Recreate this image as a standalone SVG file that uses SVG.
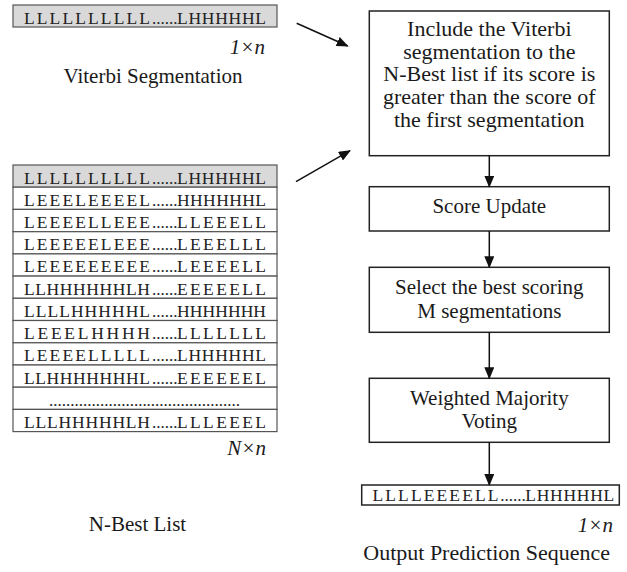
<svg xmlns="http://www.w3.org/2000/svg" width="627" height="572" viewBox="0 0 627 572">
<style>
.bg{fill:#ffffff}
.box{fill:#ffffff;stroke:#222;stroke-width:1.5}
.cell{fill:#ffffff;stroke:#555;stroke-width:1.2}
.hi{fill:#d9d9d9}
.lbl{font-family:"Liberation Serif","Times New Roman",serif;font-size:21px;fill:#1a1a1a}
.big{font-size:22px}
.mid{text-anchor:middle}
.dim{font-family:"Liberation Serif","Times New Roman",serif;font-size:21px;font-style:italic;fill:#1a1a1a;text-anchor:end}
.seq{font-family:"Liberation Serif","Times New Roman",serif;font-size:17.5px;fill:#222}
.dots{font-family:"Liberation Serif","Times New Roman",serif;font-size:17px}
.conn{stroke:#111;stroke-width:1.5;fill:none;marker-end:url(#ah)}
</style>
<defs>
<marker id="ah" viewBox="0 0 12 10" refX="11" refY="5" markerWidth="12" markerHeight="10" markerUnits="userSpaceOnUse" orient="auto">
<path d="M0,0 L12,5 L0,10 z" fill="#111"/>
</marker>
</defs>
<rect class="bg" x="0" y="0" width="627" height="572"/>

<g id="viterbi">
<rect class="cell hi" x="13" y="5" width="264" height="22"/>
<text class="seq" y="23.5"><tspan x="24" textLength="126" lengthAdjust="spacing">LLLLLLLLLL</tspan><tspan class="dots" x="152">......</tspan><tspan x="177" textLength="89" lengthAdjust="spacing">LHHHHHL</tspan></text>
<text class="dim" x="265" y="54">1×n</text>
<text class="lbl mid" x="153" y="83">Viterbi Segmentation</text>
</g>

<g id="nbest">
<rect class="cell hi" x="13" y="165" width="264" height="22.2"/>
<rect class="cell" x="13" y="187.2" width="264" height="22.2"/>
<rect class="cell" x="13" y="209.4" width="264" height="22.2"/>
<rect class="cell" x="13" y="231.7" width="264" height="22.2"/>
<rect class="cell" x="13" y="253.9" width="264" height="22.2"/>
<rect class="cell" x="13" y="276.1" width="264" height="22.2"/>
<rect class="cell" x="13" y="298.3" width="264" height="22.2"/>
<rect class="cell" x="13" y="320.5" width="264" height="22.2"/>
<rect class="cell" x="13" y="342.8" width="264" height="22.2"/>
<rect class="cell" x="13" y="365" width="264" height="22.2"/>
<rect class="cell" x="13" y="387.2" width="264" height="22.2"/>
<rect class="cell" x="13" y="409.4" width="264" height="22.2"/>
<text class="seq" y="183.5"><tspan x="24" textLength="126" lengthAdjust="spacing">LLLLLLLLLL</tspan><tspan class="dots" x="152">......</tspan><tspan x="177" textLength="89" lengthAdjust="spacing">LHHHHHL</tspan></text>
<text class="seq" y="205.7"><tspan x="24" textLength="126" lengthAdjust="spacing">LEEELEEEEL</tspan><tspan class="dots" x="152">......</tspan><tspan x="177" textLength="89" lengthAdjust="spacing">HHHHHHL</tspan></text>
<text class="seq" y="227.9"><tspan x="24" textLength="126" lengthAdjust="spacing">LEEEELLEEE</tspan><tspan class="dots" x="152">......</tspan><tspan x="177" textLength="89" lengthAdjust="spacing">LLEEELL</tspan></text>
<text class="seq" y="250.2"><tspan x="24" textLength="126" lengthAdjust="spacing">LEEEEELEEE</tspan><tspan class="dots" x="152">......</tspan><tspan x="177" textLength="89" lengthAdjust="spacing">LEEELLL</tspan></text>
<text class="seq" y="272.4"><tspan x="24" textLength="126" lengthAdjust="spacing">LEEEEEEEEE</tspan><tspan class="dots" x="152">......</tspan><tspan x="177" textLength="89" lengthAdjust="spacing">LEEEELL</tspan></text>
<text class="seq" y="294.6"><tspan x="24" textLength="126" lengthAdjust="spacing">LLHHHHHHLH</tspan><tspan class="dots" x="152">......</tspan><tspan x="177" textLength="89" lengthAdjust="spacing">EEEEELL</tspan></text>
<text class="seq" y="316.8"><tspan x="24" textLength="126" lengthAdjust="spacing">LLLLHHHHHL</tspan><tspan class="dots" x="152">......</tspan><tspan x="177" textLength="89" lengthAdjust="spacing">HHHHHHH</tspan></text>
<text class="seq" y="339"><tspan x="24" textLength="126" lengthAdjust="spacing">LEEELHHHH</tspan><tspan class="dots" x="152">......</tspan><tspan x="177" textLength="89" lengthAdjust="spacing">LLLLLLL</tspan></text>
<text class="seq" y="361.3"><tspan x="24" textLength="126" lengthAdjust="spacing">LEEEELLLLL</tspan><tspan class="dots" x="152">......</tspan><tspan x="177" textLength="89" lengthAdjust="spacing">LHHHHHL</tspan></text>
<text class="seq" y="383.5"><tspan x="24" textLength="126" lengthAdjust="spacing">LLHHHHHHHL</tspan><tspan class="dots" x="152">......</tspan><tspan x="177" textLength="89" lengthAdjust="spacing">EEEEEEL</tspan></text>
<text class="seq dots" x="49" y="405.5" textLength="191" lengthAdjust="spacing">.............................................</text>
<text class="seq" y="427.9"><tspan x="24" textLength="126" lengthAdjust="spacing">LLLHHHHHLH</tspan><tspan class="dots" x="152">......</tspan><tspan x="177" textLength="89" lengthAdjust="spacing">LLLEEEL</tspan></text>
<text class="dim" x="266" y="455">N×n</text>
<text class="lbl mid" x="137.5" y="531">N-Best List</text>
</g>

<g id="include">
<rect class="box" x="369.3" y="11" width="240" height="144.7"/>
<text class="lbl big mid" x="489.3" y="36">Include the Viterbi</text>
<text class="lbl big mid" x="489.3" y="58.7">segmentation to the</text>
<text class="lbl big mid" x="489.3" y="81.4">N-Best list if its score is</text>
<text class="lbl big mid" x="489.3" y="104.1">greater than the score of</text>
<text class="lbl big mid" x="489.3" y="126.8">the first segmentation</text>
</g>

<g id="score">
<rect class="box" x="369.3" y="186.7" width="240" height="44.3"/>
<text class="lbl mid" x="489.3" y="213.3">Score Update</text>
</g>

<g id="select">
<rect class="box" x="369.3" y="267.3" width="240" height="65"/>
<text class="lbl mid" x="489.3" y="294">Select the best scoring</text>
<text class="lbl mid" x="489.3" y="317.7">M segmentations</text>
</g>

<g id="voting">
<rect class="box" x="369.3" y="378.3" width="240" height="64"/>
<text class="lbl mid" x="489.3" y="405">Weighted Majority</text>
<text class="lbl mid" x="489.3" y="428.3">Voting</text>
</g>

<g id="output">
<rect class="box" x="361.7" y="485" width="257.6" height="20"/>
<text class="seq" y="500.7"><tspan x="372.5" textLength="126" lengthAdjust="spacing">LLLLEEEELL</tspan><tspan class="dots" x="500.3">......</tspan><tspan x="525.3" textLength="89" lengthAdjust="spacing">LHHHHHL</tspan></text>
<text class="dim" x="613" y="531.7">1×n</text>
<text class="lbl big mid" x="486.7" y="560">Output Prediction Sequence</text>
</g>

<g id="connectors">
<line class="conn" x1="296.7" y1="23.3" x2="347.7" y2="46"/>
<line class="conn" x1="296" y1="181.7" x2="350" y2="150.7"/>
<line class="conn" x1="489.3" y1="155.7" x2="489.3" y2="186.7"/>
<line class="conn" x1="489.3" y1="231" x2="489.3" y2="267.3"/>
<line class="conn" x1="489.3" y1="332.3" x2="489.3" y2="378.3"/>
<line class="conn" x1="489.3" y1="442.3" x2="489.3" y2="485"/>
</g>
</svg>
